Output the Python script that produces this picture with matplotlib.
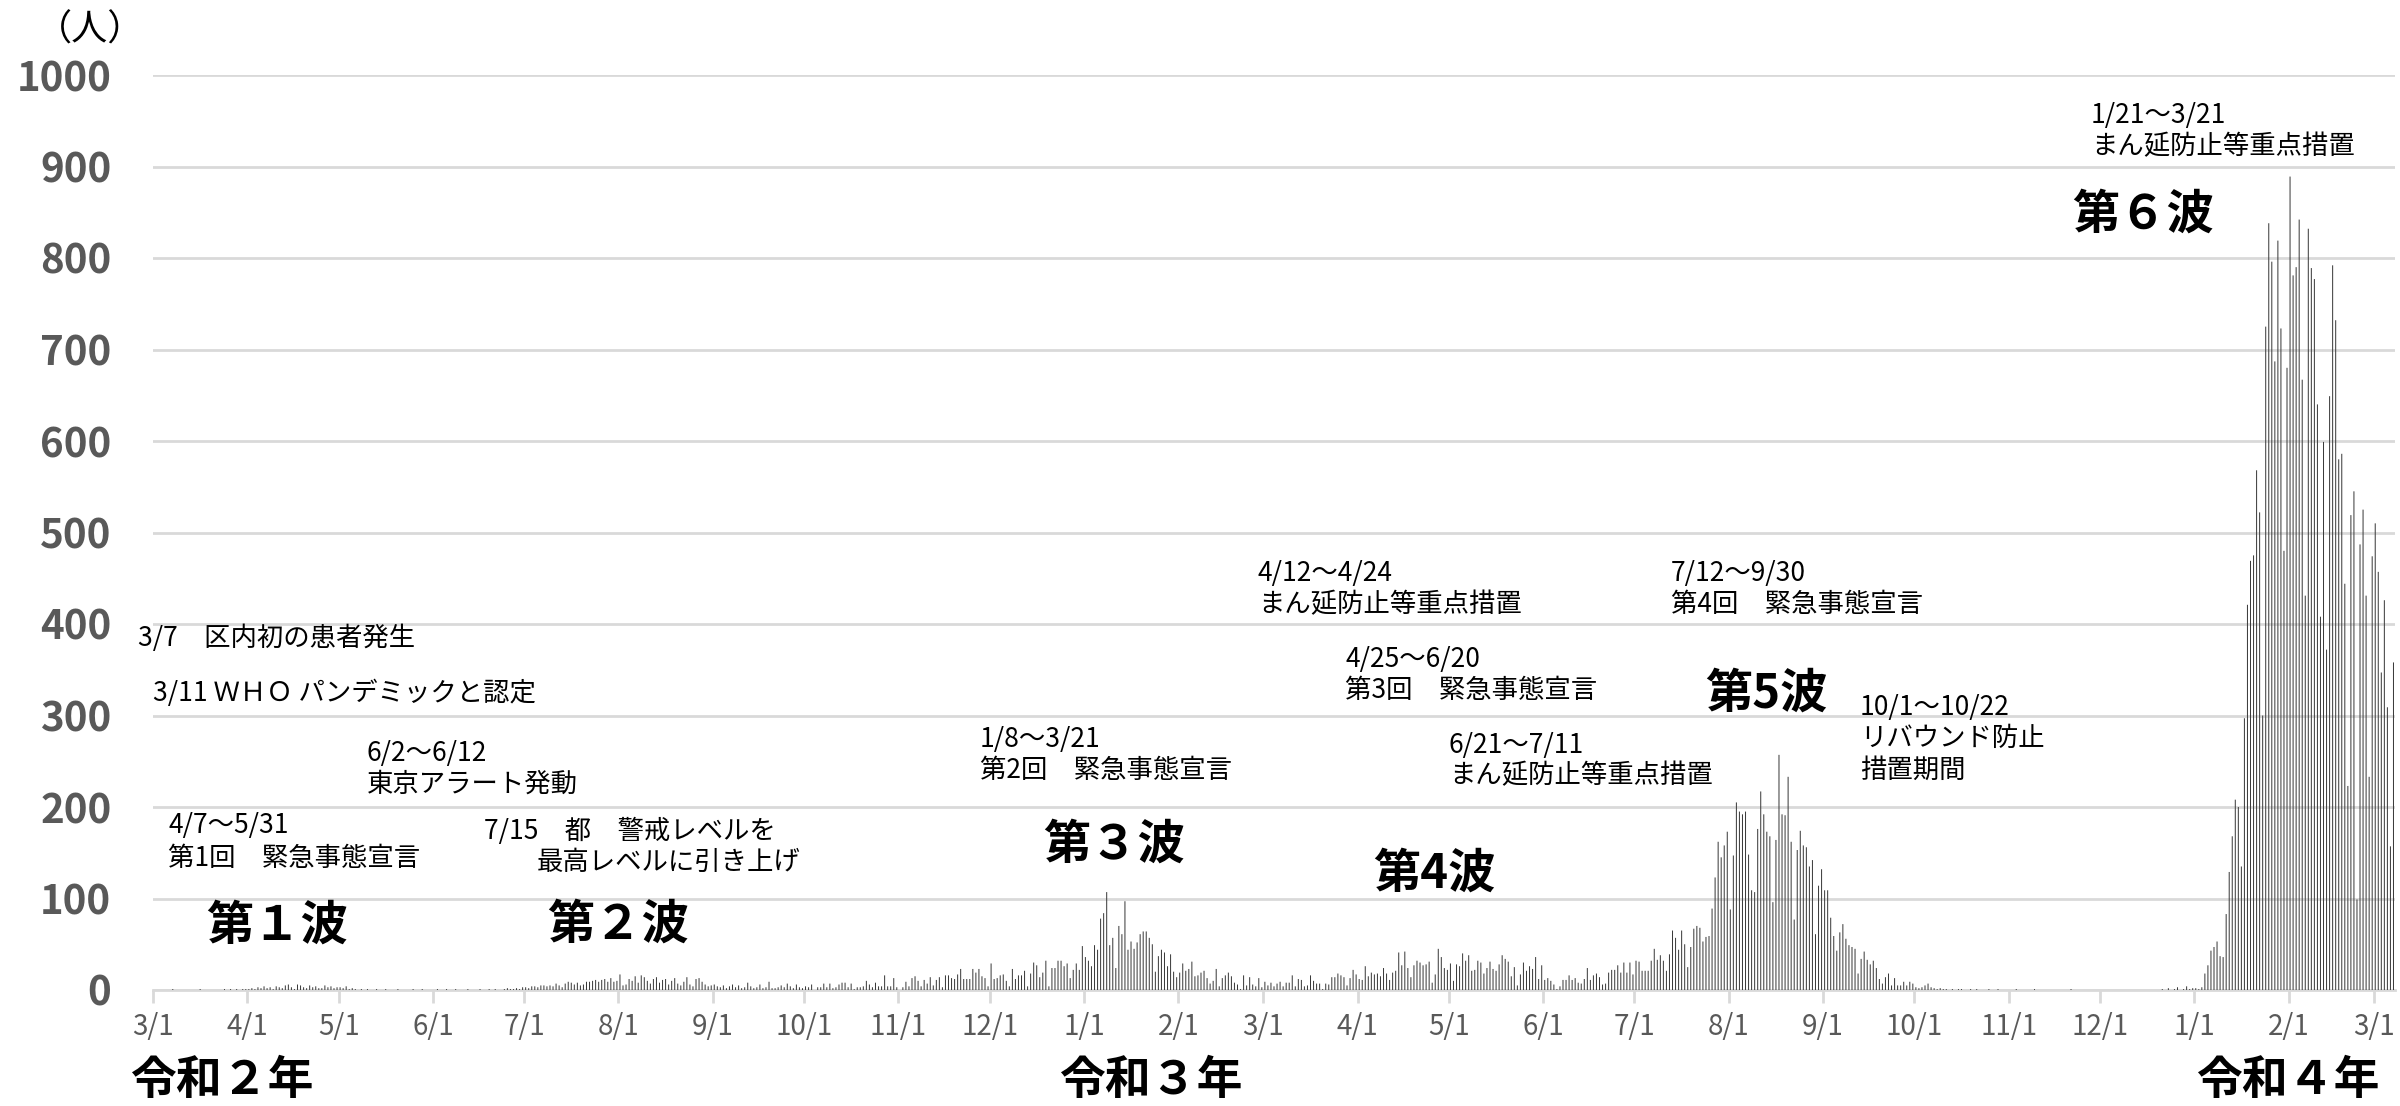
import matplotlib
matplotlib.use("Agg")
import matplotlib.pyplot as plt
import numpy as np
import pandas as pd

# ---- daily new cases ----
mar20 = [0,0,0,0,0,0,1,0,0,0, 0,0,0,0,0,1,0,0,0,0, 0,0,0,1,0,1,0,1,0,1, 1]
apr20 = [1,2,1,3,2,4,2,3,1,4, 3,2,5,6,3,1,6,5,3,2, 5,3,4,2,2,5,3,4,2,3]
may20 = [3,2,4,1,2,1,0,1,0,1, 0,0,1,0,0,1,0,0,0,1, 0,0,0,0,1,0,0,1,0,0, 0]
jun20 = [0,1,0,0,1,0,0,1,0,0, 0,1,0,0,0,1,0,0,1,0, 1,0,0,1,2,1,1,2,1,3]
jul20 = [3,2,4,4,3,5,5,4,5,4, 7,5,3,7,9,8,6,8,5,6, 9,9,10,11,9,11,12,9,13,9, 10]
aug20 = [17,5,6,12,10,15,8,16,14,10, 7,12,14,8,11,12,6,10,13,7, 5,9,14,6,4,12,13,9,6,4, 5]
sep20 = [6,4,3,5,2,4,6,3,5,2, 3,8,4,2,3,6,2,3,9,2, 2,3,5,3,7,4,2,6,3,2]
oct20 = [4,3,6,0,3,3,7,3,7,2, 3,6,8,8,3,7,1,3,3,4, 10,6,3,8,4,4,16,4,4,13, 3]
nov20 = [0,3,9,4,13,15,10,4,11,7, 14,5,11,14,3,16,16,13,12,17, 23,12,12,12,23,19,23,15,13,4]
dec20 = [29,12,13,16,17,10,4,23,12,16, 16,21,4,18,30,27,14,19,32,4, 24,24,32,32,26,29,13,22,29,22, 48]
jan21 = [36,32,26,49,44,78,84,107,49,57, 24,70,61,97,44,53,45,52,61,64, 64,57,50,20,37,44,41,26,39,20, 14]
feb21 = [19,29,21,23,31,15,16,19,21,13, 7,10,23,4,13,16,19,15,8,6, 1,16,5,14,6,4,13,3]
mar21 = [9,5,8,4,7,9,4,8,8,16, 4,12,11,4,5,16,10,7,7,1, 7,6,14,14,18,16,14,5,13,22, 17]
apr21 = [12,11,26,15,19,17,18,15,24,18, 11,19,21,41,27,42,24,14,27,32, 30,27,28,31,8,17,45,36,24,22]
may21 = [29,10,28,26,40,32,38,21,22,32, 30,18,24,31,23,21,28,38,34,31, 15,25,5,17,30,21,26,23,36,12, 27]
jun21 = [11,13,10,6,1,4,11,11,16,11, 13,8,7,12,24,11,16,18,14,6, 7,19,22,22,27,19,30,19,30,17]
jul21 = [32,31,21,21,21,32,45,33,38,32, 21,39,65,57,44,65,50,25,47,67, 70,68,53,58,59,89,123,162,145,158, 173]
aug21 = [88,147,205,195,192,195,148,109,107,176, 217,192,173,168,96,164,257,192,191,233, 162,77,153,174,158,156,135,142,61,114, 132]
sep21 = [109,109,79,59,43,63,72,56,49,47, 45,18,34,42,33,28,32,24,12,7, 14,18,5,13,5,5,9,5,9,7]
oct21 = [3,2,3,5,7,3,2,1,2,1, 1,0,1,0,1,1,0,0,1,0, 1,0,0,0,1,0,0,1,0,0, 0]
nov21 = [0,0,1,0,0,0,0,0,1,0, 0,0,0,0,0,0,0,0,0,0, 1,0,0,0,0,0,0,0,0,0]
dec21 = [0,0,0,0,0,0,0,0,0,0, 0,0,0,0,0,0,0,0,0,0, 1,0,2,0,1,3,0,1,4,1, 2]
jan22 = [2,1,3,18,27,43,47,53,37,36, 83,129,168,208,200,135,297,421,469,475, 568,522,300,725,838,796,687,819,723,480, 680]
feb22 = [889,781,790,842,667,431,832,789,777,640, 408,599,372,649,792,732,580,586,444,223, 519,545,99,487,525,431,233,474]
mar22 = [510,457,347,426,309,157,358]

months = [mar20, apr20, may20, jun20, jul20, aug20, sep20, oct20, nov20, dec20,
          jan21, feb21, mar21, apr21, may21, jun21, jul21, aug21, sep21, oct21,
          nov21, dec21, jan22, feb22, mar22]
cases = np.concatenate([np.asarray(m, dtype=float) for m in months])

start = pd.Timestamp("2020-03-01")
dates = pd.date_range(start, periods=len(cases), freq="D")

month_starts = pd.date_range("2020-03-01", "2022-03-01", freq="MS")
tick_labels = [f"{d.month}/1" for d in month_starts]
tick_pos = [(d - start).days for d in month_starts]

y_ticks = list(range(0, 1001, 100))

JP = ["Noto Sans CJK JP", "DejaVu Sans"]
plt.rcParams["font.family"] = JP

W, H = 2400, 1106
fig = plt.figure(figsize=(W / 100, H / 100), dpi=100)
ax = fig.add_axes([153 / W, 1 - 990 / H, (2395 - 153) / W, (990 - 75) / H])

x = np.arange(len(cases)) + 0.5
bars = ax.bar(x, cases, width=0.33, color="#3a3a3a", linewidth=0, zorder=3)
for b in bars:
    b.set_snap(False)

ax.set_xlim(0, 737)
ax.set_ylim(0, 1000)
ax.set_yticks(y_ticks)
ax.set_yticklabels([str(v) for v in y_ticks], fontsize=29, fontweight="bold", color="#595959")
ax.set_xticks(tick_pos)
ax.set_xticklabels(tick_labels, fontsize=20, color="#595959")
ax.tick_params(axis="y", length=0, pad=30)
ax.tick_params(axis="x", length=9, width=2, color="#d9d9d9", pad=7, direction="out")
ax.grid(axis="y", color="#d9d9d9", linewidth=2, zorder=0)
for s in ["top", "right", "left"]:
    ax.spines[s].set_visible(False)
ax.spines["bottom"].set_color("#d9d9d9")
ax.spines["bottom"].set_linewidth(2)


def ft(xp, yp, s, **kw):
    fig.text(xp / W, 1 - yp / H, s, **kw)


ft(90, 31, "（人）", fontsize=26, ha="center", va="center", color="black")

# year labels
for xp, s in [(222, "令和２年"), (1151, "令和３年"), (2288, "令和４年")]:
    ft(xp, 1081, s, fontsize=33, fontweight="bold", ha="center", va="center", color="black")

# wave labels
for xp, yp, s in [(277, 926, "第１波"), (618, 925, "第２波"), (1114, 845, "第３波"),
                  (1434, 874, "第4波"), (1766, 694, "第5波"), (2143, 215, "第６波")]:
    ft(xp, yp, s, fontsize=34, fontweight="bold", ha="center", va="center", color="black")

# annotations (each line placed separately)
notes = [
    (138, 638, "3/7　区内初の患者発生"),
    (153, 693, "3/11 ＷＨＯ パンデミックと認定"),
    (367, 753, "6/2～6/12"),
    (367, 784, "東京アラート発動"),
    (168, 826, "4/7～5/31"),
    (168, 858, "第1回　緊急事態宣言"),
    (484, 831, "7/15　都　警戒レベルを"),
    (537, 862, "最高レベルに引き上げ"),
    (980, 739, "1/8～3/21"),
    (980, 770, "第2回　緊急事態宣言"),
    (1258, 574, "4/12～4/24"),
    (1258, 605, "まん延防止等重点措置"),
    (1345, 660, "4/25～6/20"),
    (1345, 691, "第3回　緊急事態宣言"),
    (1449, 745, "6/21～7/11"),
    (1449, 776, "まん延防止等重点措置"),
    (1671, 574, "7/12～9/30"),
    (1671, 605, "第4回　緊急事態宣言"),
    (1860, 707, "10/1～10/22"),
    (1860, 738, "リバウンド防止"),
    (1860, 770, "措置期間"),
    (2091, 115, "1/21～3/21"),
    (2091, 147, "まん延防止等重点措置"),
]
for xp, yp, s in notes:
    ft(xp, yp, s, fontsize=19, ha="left", va="center", color="black")

fig.savefig("out.png", dpi=100)
